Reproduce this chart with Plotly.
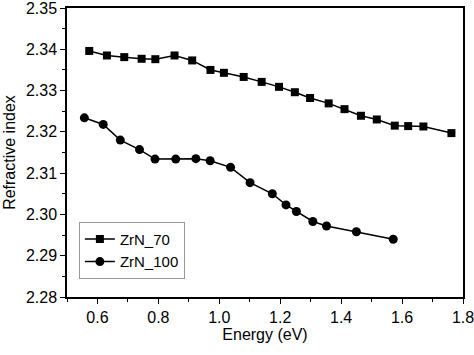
import plotly.graph_objects as go

e70 = [0.573, 0.631, 0.688, 0.745, 0.790, 0.853, 0.911, 0.971, 1.015, 1.080, 1.139,
       1.196, 1.248, 1.298, 1.359, 1.411, 1.465, 1.517, 1.576, 1.620, 1.670, 1.762]
n70 = [2.3396, 2.3385, 2.3381, 2.3377, 2.3376, 2.3385, 2.3373, 2.3350, 2.3343, 2.3333, 2.3321,
       2.3309, 2.3296, 2.3282, 2.3269, 2.3255, 2.3239, 2.3230, 2.3215, 2.3214, 2.3213, 2.3197]

e100 = [0.557, 0.619, 0.675, 0.738, 0.789, 0.857, 0.923, 0.970, 1.037, 1.101, 1.174,
        1.219, 1.253, 1.307, 1.352, 1.450, 1.571]
n100 = [2.3234, 2.3218, 2.3180, 2.3157, 2.3134, 2.3134, 2.3135, 2.3130, 2.3114, 2.3077, 2.3050,
        2.3023, 2.3007, 2.2983, 2.2972, 2.2958, 2.2940]

xticks = [0.6, 0.8, 1.0, 1.2, 1.4, 1.6, 1.8]
yticks = [2.28, 2.29, 2.30, 2.31, 2.32, 2.33, 2.34, 2.35]

font = "Liberation Sans, Arial, sans-serif"

fig = go.Figure()
fig.add_trace(go.Scatter(x=e70, y=n70, mode="lines+markers", name="ZrN_70",
                         line=dict(color="black", width=1.5),
                         marker=dict(symbol="square", size=8, color="black")))
fig.add_trace(go.Scatter(x=e100, y=n100, mode="lines+markers", name="ZrN_100",
                         line=dict(color="black", width=1.5),
                         marker=dict(symbol="circle", size=9, color="black")))

fig.update_layout(
    width=474, height=355,
    margin=dict(l=67, r=11, t=8, b=58),
    paper_bgcolor="white", plot_bgcolor="white",
    font=dict(family=font, size=16, color="black"),
    showlegend=True,
    legend=dict(x=0.03, y=0.26, xanchor="left", yanchor="top",
                bordercolor="#999999", borderwidth=1, bgcolor="white",
                font=dict(size=15), tracegroupgap=0, itemwidth=30),
)
fig.update_xaxes(range=[0.5, 1.8], tickvals=xticks, ticktext=[f"{v:.1f}" for v in xticks],
                 showline=True, linecolor="black", linewidth=1.5, mirror=True,
                 ticks="outside", ticklen=5, tickwidth=1.2, tickcolor="black",
                 minor=dict(ticks="outside", dtick=0.1, tick0=0.5, ticklen=3, tickcolor="black", tickwidth=1.2),
                 showgrid=False, zeroline=False, automargin=False, ticklabeloverflow="allow",
                 title=dict(text="Energy (eV)", font=dict(size=16), standoff=2))
fig.update_yaxes(range=[2.28, 2.35], tickvals=yticks, ticktext=[f"{v:.2f}" for v in yticks],
                 showline=True, linecolor="black", linewidth=1.5, mirror=True,
                 ticks="outside", ticklen=5, tickwidth=1.2, tickcolor="black",
                 minor=dict(ticks="outside", dtick=0.005, tick0=2.28, ticklen=3, tickcolor="black", tickwidth=1.2),
                 showgrid=False, zeroline=False, automargin=False, ticklabeloverflow="allow",
                 title=dict(text="Refractive index", font=dict(size=16), standoff=6))

fig.write_html("out.html", config={"displayModeBar": False},
               post_script="document.body.style.margin='0';")
